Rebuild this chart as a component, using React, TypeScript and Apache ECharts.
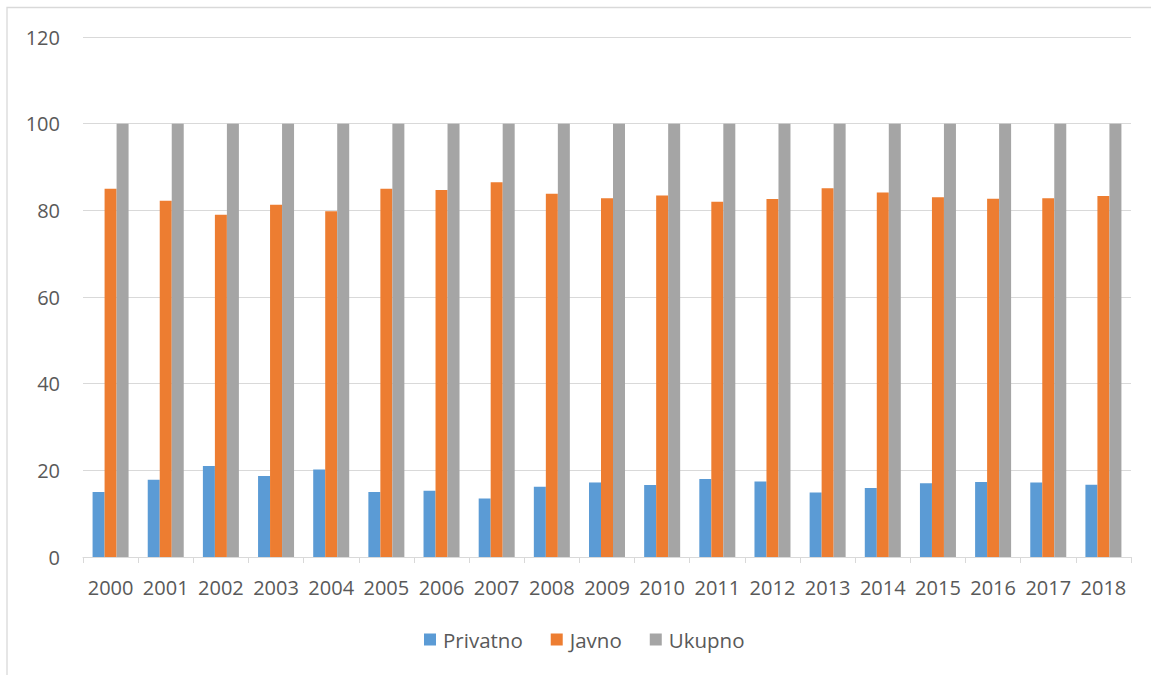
import React, { useEffect, useRef } from "react";
import * as echarts from "echarts";

const years = ["2000","2001","2002","2003","2004","2005","2006","2007","2008","2009","2010","2011","2012","2013","2014","2015","2016","2017","2018"];
const privatno = [15.0,17.8,21.0,18.7,20.2,15.0,15.3,13.5,16.2,17.2,16.6,18.0,17.4,14.9,15.9,17.0,17.3,17.2,16.7];
const javno = [85.0,82.2,79.0,81.3,79.8,85.0,84.7,86.5,83.8,82.8,83.4,82.0,82.6,85.1,84.1,83.0,82.7,82.8,83.3];
const ukupno = [100,100,100,100,100,100,100,100,100,100,100,100,100,100,100,100,100,100,100];

const FONT = "'Open Sans', 'Noto Sans', sans-serif";
const TXT = "#595959";

export default function App() {
  const ref = useRef<HTMLDivElement>(null);
  useEffect(() => {
    if (!ref.current) return;
    const chart = echarts.init(ref.current, null, { renderer: "svg" });
    const bar = (name: string, data: number[], color: string) => ({
      name,
      type: "bar",
      data,
      barWidth: 12,
      barGap: "0%",
      itemStyle: { color },
    });
    chart.setOption({
      animation: false,
      backgroundColor: "#ffffff",
      textStyle: { fontFamily: FONT, color: TXT },
      graphic: [
        {
          type: "rect",
          shape: { x: 7, y: 7.5, width: 1170, height: 700 },
          style: { fill: "none", stroke: "#d9d9d9", lineWidth: 1.3 },
          silent: true,
        },
      ],
      grid: { left: 83, right: 20, top: 37, bottom: 118 },
      legend: {
        top: 624,
        left: 419,
        icon: "rect",
        itemWidth: 12,
        itemHeight: 12,
        itemGap: 28,
        textStyle: { fontFamily: FONT, fontSize: 20.5, color: TXT, padding: [0, 0, 0, 2] },
        data: ["Privatno", "Javno", "Ukupno"],
      },
      xAxis: {
        type: "category",
        data: years,
        axisLine: { lineStyle: { color: "#d9d9d9" } },
        axisTick: { show: true, length: 6, lineStyle: { color: "#d9d9d9" } },
        axisLabel: { fontFamily: FONT, fontSize: 20, color: TXT, margin: 20, interval: 0 },
      },
      yAxis: {
        type: "value",
        min: 0,
        max: 120,
        interval: 20,
        axisLine: { show: false },
        axisTick: { show: false },
        splitLine: { lineStyle: { color: "#d9d9d9" } },
        axisLabel: { fontFamily: FONT, fontSize: 20, color: TXT, margin: 23 },
      },
      series: [
        bar("Privatno", privatno, "#5B9BD5"),
        bar("Javno", javno, "#ED7D31"),
        bar("Ukupno", ukupno, "#A5A5A5"),
      ],
    });
    return () => chart.dispose();
  }, []);
  return (
    <div
      ref={ref}
      style={{ position: "fixed", left: 0, top: 0, width: 1151, height: 675, background: "#fff" }}
    />
  );
}
